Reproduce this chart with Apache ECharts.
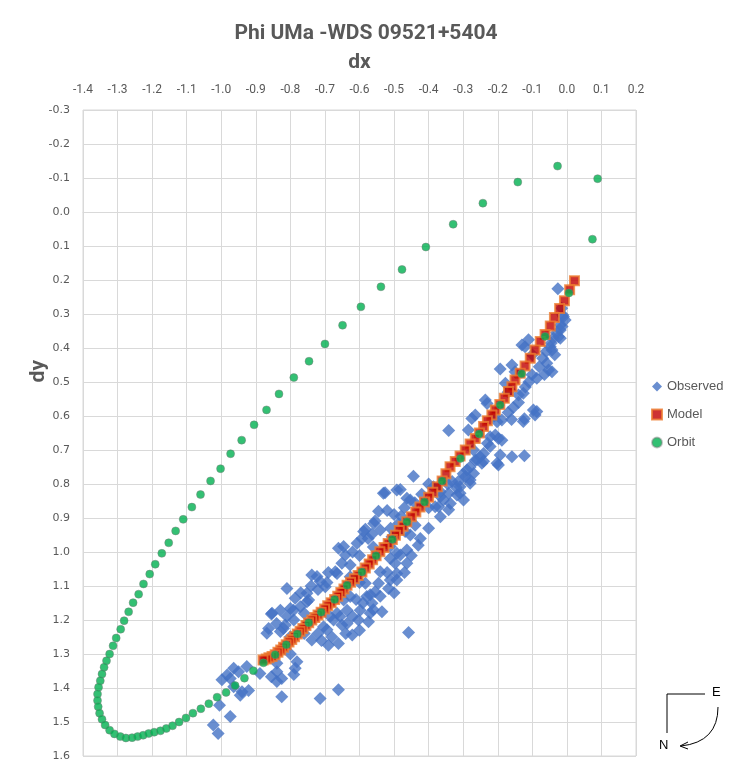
<!DOCTYPE html>
<html>
<head>
<meta charset="utf-8">
<script src="https://cdn.jsdelivr.net/npm/echarts@6/dist/echarts.min.js"></script>
<style>
  html, body { margin: 0; padding: 0; background: #fff; }
  #chart { width: 732px; height: 778px; }
</style>
</head>
<body>
<div id="chart"></div>
<script>
// values, [dx, dy]
var observed = [
  [-0.026,0.226],[-0.015,0.283],[-0.012,0.303],[-0.010,0.308],[-0.019,0.332],[-0.014,0.337],
  [-0.019,0.347],[-0.024,0.367],[-0.019,0.371],[-0.039,0.371],[-0.048,0.396],[-0.043,0.406],
  [-0.111,0.376],[-0.130,0.391],[-0.121,0.396],[-0.193,0.462],[-0.159,0.450],[-0.150,0.470],
  [-0.058,0.445],[-0.053,0.465],[-0.043,0.470],[-0.101,0.479],[-0.087,0.489],[-0.178,0.504],
  [-0.164,0.524],[-0.126,0.533],[-0.140,0.538],[-0.236,0.553],[-0.231,0.563],[-0.097,0.582],
  [-0.092,0.597],[-0.087,0.587],[-0.123,0.608],[-0.126,0.616],[-0.265,0.597],[-0.275,0.607],
  [-0.188,0.612],[-0.202,0.617],[-0.342,0.643],[-0.285,0.641],[-0.207,0.656],[-0.198,0.666],
  [-0.222,0.661],[-0.188,0.671],[-0.222,0.690],[-0.241,0.710],[-0.193,0.715],[-0.159,0.720],
  [-0.123,0.717],[-0.246,0.739],[-0.202,0.739],[-0.198,0.744],[-0.251,0.720],[-0.241,0.733],
  [-0.444,0.777],[-0.386,0.808],[-0.366,0.823],[-0.357,0.847],[-0.366,0.896],[-0.371,0.867],
  [-0.342,0.876],[-0.318,0.832],[-0.309,0.808],[-0.294,0.779],[-0.280,0.798],[-0.270,0.769],
  [-0.289,0.759],[-0.260,0.729],[-0.332,0.793],[-0.309,0.827],[-0.299,0.847],[-0.337,0.857],
  [-0.366,0.837],[-0.342,0.827],[-0.381,0.867],[-0.314,0.793],[-0.280,0.788],
  [-0.482,0.816],[-0.526,0.826],[-0.463,0.842],[-0.520,0.878],[-0.555,0.909],[-0.540,0.935],
  [-0.583,0.933],[-0.564,0.948],[-0.593,0.960],[-0.607,0.974],[-0.646,0.984],[-0.661,0.989],
  [-0.641,1.009],[-0.651,1.033],[-0.670,1.058],[-0.627,1.038],[-0.738,1.068],[-0.723,1.072],
  [-0.714,1.087],[-0.699,1.102],[-0.771,1.161],[-0.752,1.146],[-0.531,0.827],[-0.492,0.818],
  [-0.453,0.847],[-0.559,0.916],[-0.588,0.940],[-0.627,1.073],[-0.810,1.107],[-0.694,1.090],
  [-0.747,1.141],[-0.786,1.136],[-0.791,1.171],[-0.855,1.182],[-0.820,1.225],[-0.863,1.225],
  [-0.868,1.239],[-0.815,1.215],[-0.829,1.234],[-0.800,1.249],[-0.738,1.259],[-0.694,1.229],
  [-0.704,1.220],[-0.665,1.063],[-0.752,1.121],[-0.800,1.166],[-0.853,1.180],[-0.829,1.171],
  [-0.690,1.274],
  [-0.424,0.960],[-0.453,0.950],[-0.439,0.921],[-0.463,0.994],[-0.482,1.009],[-0.497,1.033],
  [-0.463,1.033],[-0.511,1.019],[-0.492,1.063],[-0.511,1.082],[-0.540,1.058],[-0.516,1.107],
  [-0.545,1.092],[-0.555,1.117],[-0.583,1.092],[-0.579,1.131],[-0.564,1.151],[-0.598,1.171],
  [-0.569,1.180],[-0.535,1.176],[-0.603,1.200],[-0.574,1.205],[-0.636,1.171],[-0.627,1.131],
  [-0.646,1.141],[-0.665,1.180],[-0.675,1.200],[-0.651,1.215],[-0.458,1.237],[-0.621,1.244],
  [-0.661,1.269],[-0.656,1.190],[-0.685,1.190],[-0.569,1.126],[-0.636,1.210],[-0.492,1.082],
  [-0.492,1.004],[-0.511,0.984],[-0.506,0.955],[-0.487,0.916],[-0.468,0.940],
  [-0.839,1.327],[-0.839,1.352],[-0.825,1.372],[-0.781,1.323],[-0.786,1.342],[-0.964,1.342],
  [-0.983,1.362],[-0.998,1.376],[-0.974,1.372],[-0.950,1.352],[-0.926,1.337],[-0.964,1.396],
  [-0.940,1.411],[-0.945,1.421],[-0.921,1.407],[-0.825,1.426],[-0.714,1.431],[-0.661,1.405],
  [-0.974,1.484],[-1.023,1.509],[-1.009,1.534],[-1.005,1.451],[-0.888,1.357],[-0.855,1.367],
  [-0.839,1.381],
  [-0.100,0.420],[-0.170,0.530],[-0.270,0.700],[-0.400,0.870],[-0.600,1.090],[-0.760,1.240],
  [-0.005,0.318],[-0.030,0.355],[-0.045,0.385],[-0.060,0.410],[-0.070,0.430],[-0.035,0.420],
  [-0.080,0.455],[-0.065,0.478],[-0.110,0.500],[-0.120,0.515],[-0.140,0.560],[-0.155,0.575],
  [-0.170,0.590],[-0.210,0.600],[-0.160,0.610],[-0.230,0.680],[-0.265,0.730],[-0.280,0.750],
  [-0.300,0.770],[-0.320,0.810],[-0.345,0.800],[-0.400,0.800],[-0.420,0.830],[-0.440,0.855],
  [-0.470,0.870],[-0.500,0.890],[-0.480,0.895],[-0.545,0.880],[-0.510,0.930],[-0.575,0.960],
  [-0.560,0.985],[-0.600,1.010],[-0.620,1.000],[-0.400,0.930],[-0.430,0.980],[-0.450,1.010],
  [-0.470,1.060],[-0.520,1.060],[-0.500,1.120],[-0.540,1.130],[-0.560,1.170],[-0.590,1.150],
  [-0.610,1.140],[-0.620,1.190],[-0.600,1.230],[-0.640,1.240],[-0.680,1.250],[-0.710,1.260],
  [-0.720,1.240],[-0.690,1.060],[-0.720,1.110],[-0.740,1.100],[-0.770,1.120],[-0.760,1.180],
  [-0.790,1.200],[-0.810,1.190],[-0.840,1.210],[-0.800,1.300],[-0.790,1.360]
];

var model = [
  [0.022,0.202],[0.008,0.229],[-0.007,0.261],[-0.021,0.284],[-0.036,0.310],[-0.048,0.335],
  [-0.063,0.360],[-0.077,0.381],[-0.092,0.406],[-0.106,0.430],[-0.121,0.453],[-0.135,0.474],
  [-0.150,0.494],[-0.159,0.514],[-0.169,0.528],[-0.181,0.548],[-0.194,0.566],[-0.207,0.582],
  [-0.217,0.597],[-0.230,0.614],[-0.241,0.631],[-0.253,0.650],[-0.265,0.666],[-0.280,0.682],
  [-0.294,0.700],[-0.309,0.718],[-0.323,0.734],[-0.338,0.749],[-0.350,0.770],[-0.361,0.791],
  [-0.375,0.808],[-0.388,0.824],[-0.400,0.839],[-0.412,0.853],[-0.425,0.868],[-0.437,0.882],
  [-0.450,0.896],[-0.463,0.911],[-0.474,0.924],[-0.485,0.937],[-0.496,0.951],[-0.505,0.963],
  [-0.517,0.975],[-0.529,0.987],[-0.541,0.999],[-0.552,1.011],[-0.562,1.023],[-0.572,1.035],
  [-0.583,1.047],[-0.593,1.059],[-0.604,1.069],[-0.615,1.079],[-0.626,1.089],[-0.636,1.098],
  [-0.645,1.109],[-0.654,1.119],[-0.663,1.130],[-0.672,1.140],[-0.682,1.149],[-0.692,1.158],
  [-0.701,1.168],[-0.711,1.177],[-0.720,1.185],[-0.729,1.193],[-0.738,1.200],[-0.747,1.208],
  [-0.755,1.216],[-0.764,1.225],[-0.772,1.233],[-0.780,1.241],[-0.788,1.249],[-0.796,1.257],
  [-0.804,1.265],[-0.812,1.273],[-0.820,1.280],[-0.828,1.288],[-0.836,1.295],[-0.844,1.302],
  [-0.853,1.307],[-0.862,1.311],[-0.870,1.315],[-0.879,1.318]
];

var orbit = [
  [-0.027,-0.135],[-0.142,-0.088],[-0.243,-0.026],[-0.329,0.036],[-0.408,0.103],[-0.477,0.169],
  [-0.538,0.220],[-0.596,0.279],[-0.649,0.333],[-0.700,0.388],[-0.746,0.439],[-0.790,0.487],
  [-0.833,0.535],[-0.869,0.582],[-0.905,0.626],[-0.941,0.671],[-0.973,0.711],[-1.002,0.755],
  [-1.031,0.791],[-1.060,0.831],[-1.085,0.868],[-1.110,0.904],[-1.132,0.938],[-1.152,0.973],
  [-1.172,1.004],[-1.191,1.036],[-1.207,1.065],[-1.225,1.094],[-1.239,1.124],[-1.255,1.149],
  [-1.268,1.176],[-1.281,1.202],[-1.291,1.227],[-1.304,1.253],[-1.313,1.276],[-1.323,1.300],
  [-1.332,1.320],[-1.339,1.339],[-1.345,1.359],[-1.350,1.379],[-1.355,1.398],[-1.358,1.418],
  [-1.358,1.437],[-1.356,1.455],[-1.352,1.474],[-1.345,1.492],[-1.336,1.509],[-1.323,1.524],
  [-1.309,1.535],[-1.292,1.543],[-1.276,1.547],[-1.258,1.546],[-1.242,1.543],[-1.226,1.539],
  [-1.210,1.534],[-1.194,1.530],[-1.176,1.526],[-1.159,1.519],[-1.141,1.511],[-1.122,1.500],
  [-1.102,1.488],[-1.082,1.474],[-1.059,1.461],[-1.036,1.446],[-1.012,1.427],[-0.986,1.413],
  [-0.960,1.393],[-0.933,1.371],[-0.907,1.349],[-0.878,1.326],[-0.844,1.302],[-0.812,1.273],
  [-0.780,1.241],[-0.747,1.208],[-0.711,1.177],[-0.672,1.140],[-0.636,1.098],[-0.593,1.059],
  [-0.552,1.011],[-0.505,0.963],[-0.463,0.911],[-0.412,0.853],[-0.361,0.791],[-0.308,0.725],
  [-0.254,0.653],[-0.193,0.568],[-0.131,0.476],[-0.063,0.366],[0.006,0.238],[0.074,0.080],
  [0.089,-0.098]
];

var chartTitle = 'Phi UMa -WDS 09521+5404';
var seriesNames = ['Observed', 'Model', 'Orbit'];

var grey = '#595959';
var gridGrey = '#D9D9D9';
var uiFont = 'Roboto';

function tick1 (v) {
    var s = (Math.round(v * 10) / 10).toFixed(1);
    return s === '-0.0' ? '0.0' : s;
}

var chartobj = echarts.init(document.getElementById('chart'), null, { renderer: 'canvas' });

var option = {
    backgroundColor: '#fff',
    animation: false,
    title: {
        text: chartTitle,
        left: 'center',
        top: 18,
        textStyle: {
            fontFamily: uiFont,
            fontSize: 21,
            fontWeight: 'bold',
            color: grey
        }
    },
    legend: {
        orient: 'vertical',
        left: 646,
        top: 375,
        itemGap: 15,
        itemWidth: 10,
        itemHeight: 10,
        textStyle: { fontFamily: 'Liberation Sans', fontSize: 13, color: grey },
        data: [
            { name: seriesNames[0], icon: 'diamond' },
            { name: seriesNames[1], icon: 'rect' },
            { name: seriesNames[2], icon: 'circle' }
        ]
    },
    grid: {
        left: 83,
        top: 110,
        right: 96,
        bottom: 22,
        show: true,
        borderColor: gridGrey,
        borderWidth: 1
    },
    xAxis: {
        type: 'value',
        position: 'top',
        min: -1.4,
        max: 0.2,
        interval: 0.1,
        name: 'dx',
        nameLocation: 'middle',
        nameGap: 37,
        nameTextStyle: {
            fontFamily: uiFont,
            fontSize: 21,
            fontWeight: 'bold',
            color: grey
        },
        axisLine: { show: true, lineStyle: { color: gridGrey } },
        axisTick: { show: false },
        axisLabel: {
            margin: 14,
            fontFamily: uiFont,
            fontSize: 12,
            color: grey,
            formatter: tick1
        },
        splitLine: { show: true, lineStyle: { color: gridGrey, width: 1 } }
    },
    yAxis: {
        type: 'value',
        inverse: true,
        min: -0.3,
        max: 1.6,
        interval: 0.1,
        axisLine: { show: true, lineStyle: { color: gridGrey } },
        axisTick: { show: false },
        axisLabel: {
            margin: 13,
            fontFamily: 'DejaVu Sans',
            fontSize: 11,
            color: grey,
            formatter: tick1
        },
        splitLine: { show: true, lineStyle: { color: gridGrey, width: 1 } }
    },
    series: [
        {
            name: seriesNames[0],
            type: 'scatter',
            symbol: 'diamond',
            symbolSize: 13,
            itemStyle: { color: '#4472C4' },
            data: observed,
            z: 2
        },
        {
            name: seriesNames[1],
            type: 'scatter',
            symbol: 'rect',
            symbolSize: 9,
            itemStyle: { color: '#C00000', borderColor: '#ED7D31', borderWidth: 2 },
            data: model,
            z: 3
        },
        {
            name: seriesNames[2],
            type: 'scatter',
            symbol: 'circle',
            symbolSize: 8,
            itemStyle: { color: '#00B050', borderColor: 'rgba(120,120,120,0.55)', borderWidth: 1 },
            data: orbit,
            z: 4
        }
    ],
    graphic: [
        {
            type: 'text',
            left: 28,
            top: 360,
            rotation: Math.PI / 2,
            style: {
                text: 'dy',
                fontFamily: uiFont,
                fontSize: 21,
                fontWeight: 'bold',
                fill: grey
            }
        },
        // compass in the corner
        {
            type: 'polyline',
            shape: { points: [[705, 694], [667, 694], [667, 733]] },
            style: { stroke: '#000', lineWidth: 1, fill: null }
        },
        {
            type: 'text',
            x: 712, y: 686,
            style: { text: 'E', fontFamily: 'Liberation Sans', fontSize: 13, fill: '#000' }
        },
        {
            type: 'text',
            x: 659, y: 739,
            style: { text: 'N', fontFamily: 'Liberation Sans', fontSize: 13, fill: '#000' }
        },
        {
            type: 'bezierCurve',
            shape: { x1: 718, y1: 707, cpx1: 718, cpy1: 742, x2: 681, y2: 746 },
            style: { stroke: '#000', lineWidth: 1, fill: null }
        },
        {
            type: 'polyline',
            shape: { points: [[688, 742], [680, 746], [688, 749]] },
            style: { stroke: '#000', lineWidth: 1, fill: null }
        }
    ]
};

chartobj.setOption(option);
</script>
</body>
</html>
